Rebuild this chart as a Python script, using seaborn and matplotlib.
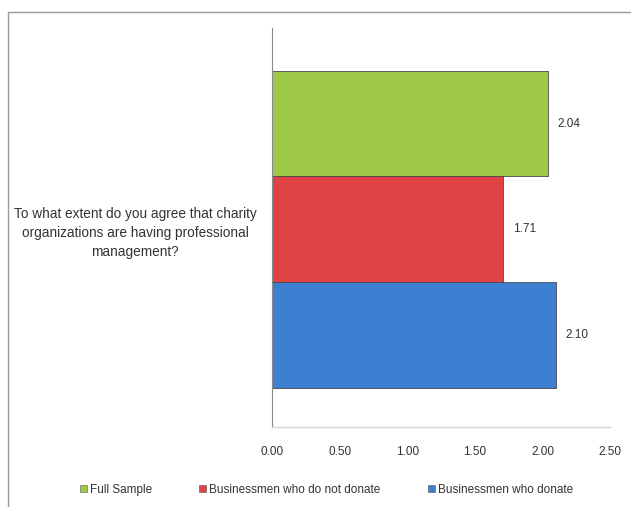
import pandas as pd
import matplotlib
matplotlib.use('Agg')
import matplotlib.pyplot as plt
from matplotlib.patches import Rectangle
import seaborn as sns

# values
question = 'To what extent do you agree that charity\norganizations are having professional\nmanagement?'
groups = ['Full Sample', 'Businessmen who do not donate', 'Businessmen who donate']
scores = [2.04, 1.71, 2.10]
colors = ['#a0c94a', '#e04343', '#3d80d2']
x_ticks = [0.0, 0.5, 1.0, 1.5, 2.0, 2.5]

df = pd.DataFrame({'question': [question] * 3, 'group': groups, 'score': scores})

sns.set_style('white')
plt.rcParams['font.family'] = ['Liberation Sans', 'DejaVu Sans']

fig = plt.figure(figsize=(6.31, 5.07), dpi=100)
ax = fig.add_axes([0.431, 0.158, 0.536, 0.787])

sns.barplot(data=df, x='score', y='question', hue='group', hue_order=groups,
            palette=colors, saturation=1, orient='h', width=0.8, dodge=True,
            edgecolor='#4a4a4a', linewidth=0.6, legend=False, ax=ax)

# value labels next to each bar
for bars in ax.containers:
    ax.bar_label(bars, fmt='%.2f', padding=7, fontsize=8.5, color='#333333')

ax.set_xlim(0, 2.5)
ax.set_ylim(0.498, -0.508)
ax.set_xticks(x_ticks)
ax.set_xticklabels(['%.2f' % t for t in x_ticks], fontsize=8.5, color='#333333')
ax.set_xlabel('')
ax.set_ylabel('')
ax.tick_params(axis='x', length=0, pad=14)
ax.tick_params(axis='y', length=0, pad=11)
for lbl in ax.get_yticklabels():
    lbl.set_multialignment('center')
    lbl.set_fontsize(9.8)
    lbl.set_linespacing(1.45)
    lbl.set_color('#333333')

sns.despine(ax=ax, top=True, right=True)
ax.spines['left'].set_color('#8a8a8a')
ax.spines['left'].set_linewidth(0.8)
ax.spines['bottom'].set_color('#d4d4d4')
ax.spines['bottom'].set_linewidth(1.0)

# legend at the bottom
handles = [Rectangle((0, 0), 1, 1, facecolor=c, edgecolor='#555555', linewidth=0.4) for c in colors]
fig.legend(handles, groups, loc='center', bbox_to_anchor=(0.517, 0.034), ncol=3,
           frameon=False, fontsize=8.5, handlelength=0.6, handleheight=0.6,
           handletextpad=0.25, columnspacing=4.0, labelcolor='#333333')

# outer chart frame
fig.patches.append(Rectangle((8 / 631, -0.1), 1.2, 1.1 - 12 / 507,
                             transform=fig.transFigure, fill=False,
                             edgecolor='#9a9a9a', linewidth=1.0))

fig.savefig('out.png', dpi=100)
